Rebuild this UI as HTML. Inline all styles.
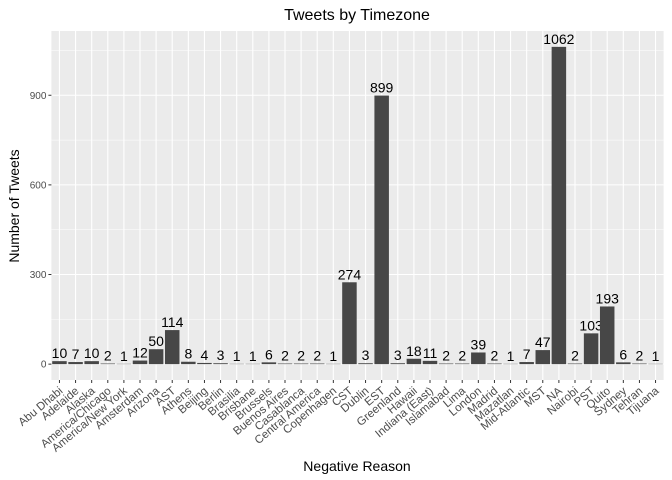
<!DOCTYPE html>
<html><head><meta charset="utf-8"><style>body{margin:0;background:#fff}svg{display:block;font-family:"Liberation Sans",sans-serif}</style></head>
<body>
<svg id="chart" width="672" height="480" xmlns="http://www.w3.org/2000/svg">
<text x="357" y="20" text-anchor="middle" font-size="16">Tweets by Timezone</text>
<rect x="51.4" y="31" width="612.2" height="349" fill="#ebebeb"/>
<g id="grid"></g><g id="bars"></g><g id="axes"></g>
<text transform="translate(19,206) rotate(-90)" text-anchor="middle" font-size="14">Number of Tweets</text>
<text x="357" y="471" text-anchor="middle" font-size="14">Negative Reason</text>
</svg>
<script>
const categories=["Abu Dhabi","Adelaide","Alaska","America/Chicago","America/New York","Amsterdam","Arizona","AST","Athens","Beijing","Berlin","Brasilia","Brisbane","Brussels","Buenos Aires","Casablanca","Central America","Copenhagen","CST","Dublin","EST","Greenland","Hawaii","Indiana (East)","Islamabad","Lima","London","Madrid","Mazatlan","Mid-Atlantic","MST","NA","Nairobi","PST","Quito","Sydney","Tehran","Tijuana"];
const counts=[10,7,10,2,1,12,50,114,8,4,3,1,1,6,2,2,2,1,274,3,899,3,18,11,2,2,39,2,1,7,47,1062,2,103,193,6,2,1];
const yTicks=[0,300,600,900];
const NS="http://www.w3.org/2000/svg";
const x0=51.4,x1=663.6,y0=380,y1=31;
const maxV=Math.max(...counts),lo=-maxV*0.05,hi=maxV*1.05;
const y=v=>y0-(v-lo)/(hi-lo)*(y0-y1);
const step=(x1-x0)/categories.length;
const x=i=>x0+step*(i+0.5);
function mk(t,a,p){const e=document.createElementNS(NS,t);for(const k in a)e.setAttribute(k,a[k]);p.appendChild(e);return e;}
const grid=document.getElementById('grid'),bars=document.getElementById('bars'),axes=document.getElementById('axes');
for(let k=0;k<yTicks.length-1;k++){const g=mk('line',{x1:x0,x2:x1,y1:y((yTicks[k]+yTicks[k+1])/2),y2:y((yTicks[k]+yTicks[k+1])/2),stroke:'#fff','stroke-width':0.5},grid);

}
{const v=yTicks[yTicks.length-1]+150;if(y(v)>y1){const g=mk('line',{x1:x0,x2:x1,y1:y(v),y2:y(v),stroke:'#fff','stroke-width':0.5},grid);

}}
yTicks.forEach(v=>{const g=mk('line',{x1:x0,x2:x1,y1:y(v),y2:y(v),stroke:'#fff','stroke-width':1.1},grid);


const t=mk('line',{x1:x0-3,x2:x0,y1:y(v),y2:y(v),stroke:'#333','stroke-width':1},axes);


const l=mk('text',{x:x0-5,y:y(v)+3.5,'text-anchor':'end','font-size':10,fill:'#4d4d4d'},axes);l.textContent=v;

});
categories.forEach((c,i)=>{const cx=x(i);
const g=mk('line',{x1:cx,x2:cx,y1:y0,y2:y1,stroke:'#fff','stroke-width':1.1},grid);


const w=step*0.9;
const b=mk('rect',{x:cx-w/2,y:y(counts[i]),width:w,height:y(0)-y(counts[i]),fill:'#474747'},bars);


const v=mk('text',{x:cx,y:y(counts[i])-3,'text-anchor':'middle','font-size':14},bars);v.textContent=counts[i];


const t=mk('line',{x1:cx,x2:cx,y1:y0,y2:y0+3,stroke:'#333','stroke-width':1},axes);


const l=mk('text',{x:cx+4,y:y0+12,'text-anchor':'end','font-size':11.5,fill:'#4d4d4d',transform:`rotate(-40 ${cx+4} ${y0+12})`},axes);l.textContent=c;

});
</script>
</body></html>
